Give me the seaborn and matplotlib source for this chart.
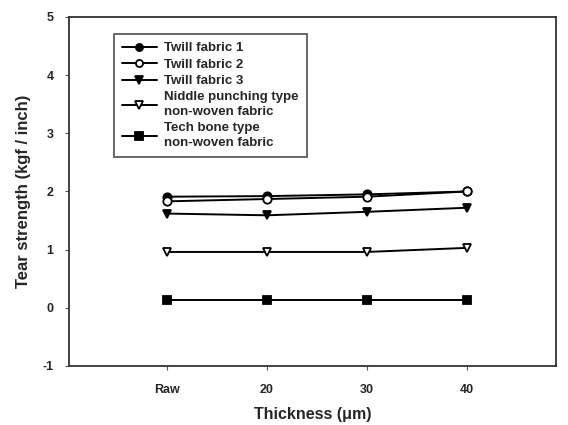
import pandas as pd
import matplotlib
matplotlib.use('Agg')
import matplotlib.pyplot as plt
import seaborn as sns

# --- data ---
thickness = ['Raw', '20', '30', '40']
twill_1 = [1.91, 1.92, 1.95, 2.00]
twill_2 = [1.83, 1.87, 1.91, 2.00]
twill_3 = [1.62, 1.59, 1.65, 1.72]
niddle = [0.96, 0.96, 0.96, 1.03]
tech_bone = [0.13, 0.13, 0.13, 0.13]

series = [
    ('Twill fabric 1', twill_1, 'o', 'black'),
    ('Twill fabric 2', twill_2, 'o', 'white'),
    ('Twill fabric 3', twill_3, 'v', 'black'),
    ('Niddle punching type\nnon-woven fabric', niddle, 'v', 'white'),
    ('Tech bone type\nnon-woven fabric', tech_bone, 's', 'black'),
]

sns.set_style('ticks')
plt.rcParams['font.family'] = ['Liberation Sans', 'DejaVu Sans']
plt.rcParams['font.weight'] = 'bold'
plt.rcParams['axes.unicode_minus'] = False

fig = plt.figure(figsize=(5.68, 4.25), dpi=100)
ax = fig.add_axes([0.121, 0.139, 0.858, 0.821])

for name, vals, mk, face in series:
    df = pd.DataFrame({'x': range(len(thickness)), 'y': vals})
    sns.lineplot(data=df, x='x', y='y', ax=ax, color='black', linewidth=1.4,
                 marker=mk, markersize=6, markerfacecolor=face,
                 markeredgecolor='black', markeredgewidth=1.3, label=name)

ax.set_xlim(-0.98, 3.89)
ax.set_ylim(-1, 5)
ax.set_xticks(range(len(thickness)))
ax.set_xticklabels(thickness)
ax.set_yticks(range(-1, 6))
ax.tick_params(labelsize=9, length=3, width=0.8, color='#555555')
ax.tick_params(axis='x', pad=10)
ax.tick_params(axis='y', pad=8)
for lab in ax.get_xticklabels() + ax.get_yticklabels():
    lab.set_fontweight('bold')
for sp in ax.spines.values():
    sp.set_linewidth(1.3)
    sp.set_color('#333333')

ax.set_xlabel('Thickness (\u03bcm)', fontsize=11.5, fontweight='bold', labelpad=8)
ax.set_ylabel('Tear strength (kgf / inch)', fontsize=12, fontweight='bold', labelpad=8)

leg = ax.legend(loc='upper left', bbox_to_anchor=(0.08, 0.97), frameon=True,
                fancybox=False, edgecolor='#333333', fontsize=9.5,
                handlelength=2.6, handletextpad=0.6, labelspacing=0.32,
                borderpad=0.6, markerscale=0.85)
leg.get_frame().set_linewidth(1.3)
for t in leg.get_texts():
    t.set_fontweight('bold')
    t.set_linespacing(1.3)

fig.savefig('out.png', dpi=100)
